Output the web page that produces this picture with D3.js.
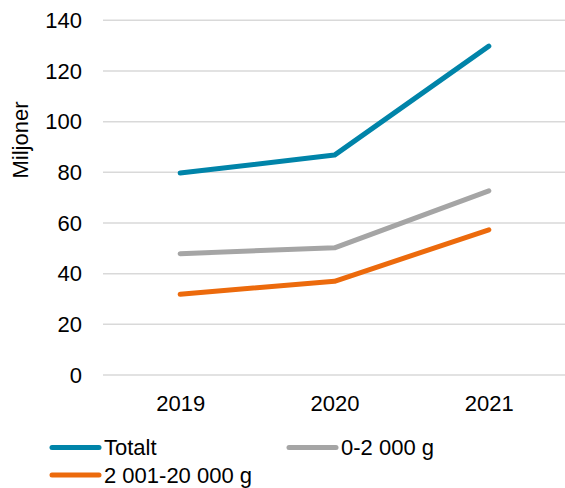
<!DOCTYPE html>
<html lang="no">
<head>
<meta charset="UTF-8">
<title>Miljoner</title>
<script src="https://d3js.org/d3.v7.min.js"></script>
<style>
  body { margin: 0; background: #fff; }
  svg { font-family: "Liberation Sans", Arial, sans-serif; }
</style>
</head>
<body>
<svg id="chart" width="565" height="488"></svg>
<script>
// data
const years = ["2019", "2020", "2021"];
const totalt = [79.7, 86.8, 129.8];
const small = [47.9, 50.2, 72.7];
const medium = [31.9, 37.0, 57.3];
const yTicks = [0, 20, 40, 60, 80, 100, 120, 140];

const series = [
  { name: "Totalt", values: totalt, color: "#0084A9" },
  { name: "0-2 000 g", values: small, color: "#A5A5A5" },
  { name: "2 001-20 000 g", values: medium, color: "#EC6A0C" }
];

const svg = d3.select("#chart");
const plotLeft = 103, plotRight = 566, plotTop = 20.3, plotBottom = 375;
const fontSize = 22;

const x = d3.scalePoint().domain(years).range([plotLeft, plotRight]).padding(0.5);
const y = d3.scaleLinear().domain([0, 140]).range([plotBottom, plotTop]);

// gridlines
svg.append("g")
  .selectAll("line")
  .data(yTicks)
  .join("line")
  .attr("x1", plotLeft).attr("x2", 565)
  .attr("y1", d => y(d)).attr("y2", d => y(d))
  .attr("stroke", "#d9d9d9").attr("stroke-width", 1.5);

// y axis labels
const yAxis = svg.append("g")
  .attr("transform", `translate(${plotLeft - 21},0)`)
  .call(d3.axisLeft(y).tickValues(yTicks).tickSize(0).tickPadding(0));
yAxis.select(".domain").remove();
yAxis.selectAll("text").attr("font-size", fontSize).attr("fill", "#000")
  .attr("font-family", "Liberation Sans, Arial, sans-serif");

// x axis labels
const xAxis = svg.append("g")
  .attr("transform", `translate(0,${plotBottom + 20})`)
  .call(d3.axisBottom(x).tickSize(0).tickPadding(0));
xAxis.select(".domain").remove();
xAxis.selectAll("text").attr("font-size", fontSize).attr("fill", "#000")
  .attr("font-family", "Liberation Sans, Arial, sans-serif");

// axis title
svg.append("text")
  .attr("transform", "translate(28,140) rotate(-90)")
  .attr("text-anchor", "middle")
  .attr("font-size", fontSize)
  .text("Miljoner");

// lines
const line = d3.line()
  .x((d, i) => x(years[i]))
  .y(d => y(d));

svg.append("g")
  .selectAll("path")
  .data(series)
  .join("path")
  .attr("d", d => line(d.values))
  .attr("fill", "none")
  .attr("stroke", d => d.color)
  .attr("stroke-width", 5)
  .attr("stroke-linecap", "round")
  .attr("stroke-linejoin", "round");

// legend
const legendPos = [[52, 447.5], [289, 447.5], [52, 475]];
const legend = svg.append("g")
  .selectAll("g")
  .data(series)
  .join("g")
  .attr("transform", (d, i) => `translate(${legendPos[i][0]},${legendPos[i][1]})`);

legend.append("line")
  .attr("x1", 0).attr("x2", 47)
  .attr("stroke", d => d.color)
  .attr("stroke-width", 5)
  .attr("stroke-linecap", "round");

legend.append("text")
  .attr("x", 52).attr("y", 0)
  .attr("dy", "0.35em")
  .attr("font-size", fontSize)
  .text(d => d.name);
</script>
</body>
</html>
